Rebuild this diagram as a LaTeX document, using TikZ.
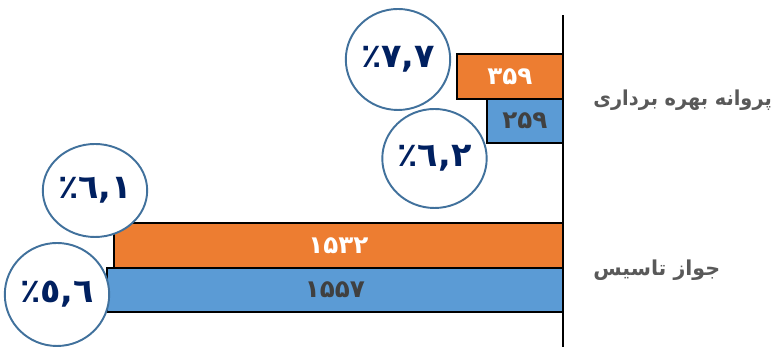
\documentclass[tikz,border=0pt]{standalone}
\usepackage{fontspec}
\usepackage{tikz}
\usetikzlibrary{shapes.geometric}
\newfontfamily\arabicfont[Script=Arabic]{DejaVu Sans}
\TeXXeTstate=1
\definecolor{barorange}{RGB}{237,125,49}
\definecolor{barblue}{RGB}{91,155,213}
\definecolor{ringblue}{RGB}{65,113,156}
\definecolor{pctnavy}{RGB}{0,32,96}
\definecolor{labelgrey}{RGB}{89,89,89}
\definecolor{valgrey}{RGB}{64,64,64}
\newcommand{\pctval}[1]{\mbox{٪}\mbox{#1}}

\begin{document}
\begin{tikzpicture}[
		bar/.style={draw=black, line width=0.8pt},
		valtext/.style={font=\arabicfont\bfseries\fontsize{14}{14}\selectfont},
		cattext/.style={anchor=west, inner sep=0pt, text=labelgrey, font=\arabicfont\bfseries\fontsize{11.7}{12}\selectfont},
		pctring/.style={ellipse, draw=ringblue, line width=1.1pt, fill=white, inner sep=0pt,
			minimum width=2.08cm, minimum height=2.02cm, text=pctnavy,
			font=\arabicfont\bfseries\fontsize{19}{19}\selectfont}
	]
		\useasboundingbox (0,0) rectangle (15.58,6.94);
		
		% axis
		\draw [line width=0.8pt] (11.26,0) -- (11.26,6.64);
		
		% upper pair
		\draw [bar, fill=barorange] (9.14,4.96) rectangle (11.26,5.86);
		\node [valtext, text=white] (v359) at (10.20,5.41) {۳۵۹};
		\draw [bar, fill=barblue] (9.74,4.08) rectangle (11.26,4.96);
		\node [valtext, text=valgrey] (v259) at (10.50,4.52) {۲۵۹};
		
		% lower pair
		\draw [bar, fill=barorange] (2.28,1.58) rectangle (11.26,2.48);
		\node [valtext, text=white] (v1532) at (6.77,2.03) {۱۵۳۲};
		\draw [bar, fill=barblue] (2.14,0.70) rectangle (11.26,1.58);
		\node [valtext, text=valgrey] (v1557) at (6.70,1.14) {۱۵۵۷};
		
		% rings
		\node [pctring] (p77) at (7.96,5.75) {\pctval{٧,٧}};
		\node [pctring, minimum width=2.06cm, minimum height=1.98cm] (p62) at (8.69,3.77) {\pctval{٦,٢}};
		\node [pctring, minimum height=1.86cm] (p61) at (1.90,3.13) {\pctval{٦,١}};
		\node [pctring, minimum width=2.0cm, minimum height=2.06cm] (p56) at (1.14,1.05) {\pctval{٥,٦}};
		
		\node [cattext] (catA) at (11.86,4.94) {\addfontfeature{FakeStretch=0.94}\beginR پروانه بهره برداری\endR};
		\node [cattext] (catB) at (11.86,1.54) {\beginR جواز تاسیس\endR};
		
	\end{tikzpicture}
\end{document}
